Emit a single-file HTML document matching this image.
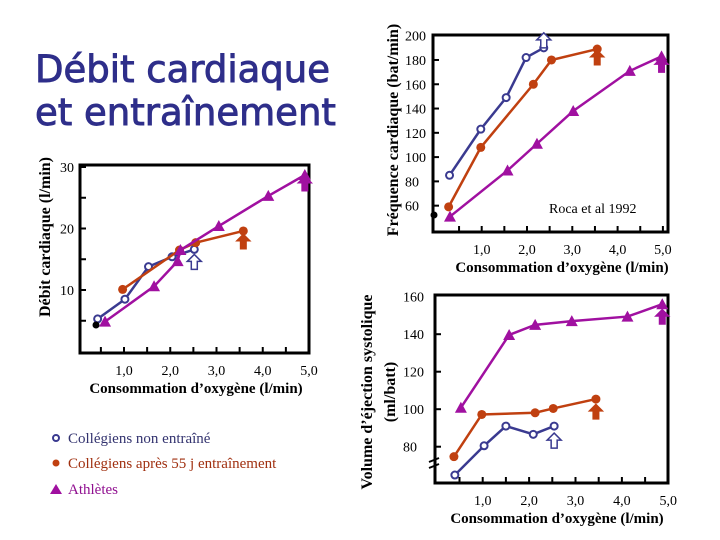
<!DOCTYPE html>
<html><head><meta charset="utf-8">
<style>
html,body{margin:0;padding:0;background:#fff;}
#wrap{position:relative;width:720px;height:540px;overflow:hidden;background:#fff;}
svg text{font-family:"Liberation Serif",serif;}
</style></head>
<body>
<div id="wrap">
<svg id="svg" width="720" height="540" viewBox="0 0 720 540">
<text x="35" y="82" style="font-family:'DejaVu Sans',sans-serif" font-size="37" fill="#2e2e8a" stroke="#2e2e8a" stroke-width="0.9">Débit cardiaque</text>
<text x="35" y="125" style="font-family:'DejaVu Sans',sans-serif" font-size="37" fill="#2e2e8a" stroke="#2e2e8a" stroke-width="0.9">et entraînement</text>
<text transform="translate(50,237) rotate(-90)" text-anchor="middle" font-size="16" font-weight="bold">Débit cardiaque (l/min)</text>
<text transform="translate(398,130) rotate(-90)" text-anchor="middle" font-size="16" font-weight="bold">Fréquence cardiaque (bat/min)</text>
<text transform="translate(372,392) rotate(-90)" text-anchor="middle" font-size="16" font-weight="bold">Volume d’éjection systolique</text>
<text transform="translate(395,392) rotate(-90)" text-anchor="middle" font-size="16" font-weight="bold">(ml/batt)</text>
<text x="549" y="213" font-size="14">Roca et al 1992</text>
<g>
<circle cx="56" cy="438" r="3" fill="none" stroke="#3a3a90" stroke-width="2"/>
<text x="68" y="443" font-size="15" fill="#33336f">Collégiens non entraîné</text>
<circle cx="56" cy="463" r="3.5" fill="#c04010"/>
<text x="68" y="468" font-size="15" fill="#a03010">Collégiens après 55 j entraînement</text>
<polygon points="50,494 56,484 62,494" fill="#a010a0"/>
<text x="68" y="494" font-size="15" fill="#901090">Athlètes</text>
</g>
</svg>
</div>
<script>
// Left chart: cardiac output
const leftBlueX=[0.43,1.02,1.53,2.04,2.52];
const leftBlueY=[5.3,8.5,13.8,15.4,16.6];
const leftOrangeX=[0.97,2.2,2.55,3.58];
const leftOrangeY=[10.1,16.5,17.7,19.6];
const leftPurpleX=[0.59,1.65,2.16,2.22,3.05,4.12,4.91];
const leftPurpleY=[4.85,10.6,14.7,16.5,20.4,25.3,28.7];
const leftYTicks=[10,20,30];
// Top right: heart rate
const hrBlueX=[0.29,0.98,1.54,1.98,2.37];
const hrBlueY=[85,123,149,182,190];
const hrOrangeX=[0.27,0.98,2.14,2.54,3.55];
const hrOrangeY=[59,108,160,180,189];
const hrPurpleX=[0.3,1.57,2.22,3.02,4.27,4.97];
const hrPurpleY=[51,89,111,138,171,183];
const hrYTicks=[60,80,100,120,140,160,180,200];
// Bottom right: stroke volume
const svBlueX=[0.40,1.03,1.50,2.09,2.54];
const svBlueY=[64.9,80.5,91,86.6,91];
const svOrangeX=[0.38,0.98,2.13,2.52,3.44];
const svOrangeY=[74.7,97.2,98.1,100.4,105.4];
const svPurpleX=[0.53,1.57,2.13,2.92,4.12,4.87];
const svPurpleY=[100.8,139.6,145,147,149.4,156];
const svYTicks=[80,100,120,140,160];
const xTickLabels=["1,0","2,0","3,0","4,0","5,0"];
const xTickVals=[1,2,3,4,5];

const NS="http://www.w3.org/2000/svg";
const svg=document.getElementById('svg');
const C={blue:"#3a3a90",orange:"#c04010",purple:"#a010a0"};
function mk(tag,attrs,parent){const e=document.createElementNS(NS,tag);for(const k in attrs)e.setAttribute(k,attrs[k]);(parent||svg).appendChild(e);return e;}

function panel(cfg){
  const g=mk('g',{});
  
  
  const sx=v=>cfg.x0+v*cfg.kx;
  const sy=v=>cfg.y0-(v-cfg.vmin)*cfg.ky;
  const fr=mk('rect',{x:cfg.L,y:cfg.T,width:cfg.R-cfg.L,height:cfg.B-cfg.T,fill:'none',stroke:'#000','stroke-width':3},g);
  
  
  for(let v=0.5;v<=5.01;v+=0.5){
    const t=mk('line',{x1:sx(v),x2:sx(v),y1:cfg.B,y2:cfg.B-6,stroke:'#000','stroke-width':2},g);
    
    
  }
  xTickVals.forEach((v,i)=>{
    const t=mk('text',{x:sx(v),y:cfg.B+22,'text-anchor':'middle','font-size':14},g);
    t.textContent=xTickLabels[i];
    
    
  });
  const xt=mk('text',{x:cfg.xtX,y:cfg.B+40,'text-anchor':'middle','font-size':15,'font-weight':'bold'},g);
  xt.textContent="Consommation d’oxygène (l/min)";
  
  
  cfg.yTicks.forEach(v=>{
    const t=mk('text',{x:cfg.L+cfg.labDx,y:sy(v)+5,'text-anchor':cfg.labAnchor,'font-size':14},g);
    t.textContent=v;
    
    
  });
  cfg.minorTicks.forEach(v=>{
    const t=mk('line',{x1:cfg.L,x2:cfg.L+6,y1:sy(v),y2:sy(v),stroke:'#000','stroke-width':2},g);
    
    
  });
  cfg.series.forEach(s=>{
    const pts=s.x.map((v,i)=>sx(v)+','+sy(s.y[i])).join(' ');
    const pl=mk('polyline',{points:pts,fill:'none',stroke:C[s.c],'stroke-width':2.5},g);
    
    
    s.x.forEach((v,i)=>{
      const px=sx(v),py=sy(s.y[i]);let m;
      if(s.c==='blue')m=mk('circle',{cx:px,cy:py,r:3.5,fill:'#fff',stroke:C.blue,'stroke-width':2},g);
      else if(s.c==='orange')m=mk('circle',{cx:px,cy:py,r:4.5,fill:C.orange},g);
      else m=mk('polygon',{points:`${px-6},${py+5} ${px},${py-6} ${px+6},${py+5}`,fill:C.purple},g);
      
      
    });
    const lx=sx(s.x[s.x.length-1]),ly=sy(s.y[s.y.length-1])+s.ad;
    const hollow=s.c==='blue';
    const a=mk('polygon',{points:`${lx},${ly-7} ${lx+7},${ly} ${lx+3},${ly} ${lx+3},${ly+8} ${lx-3},${ly+8} ${lx-3},${ly} ${lx-7},${ly}`,
      fill:hollow?'#fff':C[s.c],stroke:C[s.c],'stroke-width':hollow?1.5:1},g);
    
    
  });
  if(cfg.dot){
    const d=mk('circle',{cx:cfg.dot[0],cy:cfg.dot[1],r:3.5,fill:'#000'},g);
    
    
  }
}

panel({name:'left-panel-cardiac-output',L:80,R:309,T:165,B:353,x0:77.75,kx:46.25,y0:351.5,vmin:0,ky:6.15,
  yTicks:leftYTicks,minorTicks:[5,10,15,20,25,30],labDx:-6,labAnchor:'end',xtX:196,dot:[96,325],
  series:[{n:'left-untrained',c:'blue',x:leftBlueX,y:leftBlueY,ad:12},
          {n:'left-trained',c:'orange',x:leftOrangeX,y:leftOrangeY,ad:10},
          {n:'left-athletes',c:'purple',x:leftPurpleX,y:leftPurpleY,ad:8}]});
panel({name:'top-right-panel-heart-rate',L:433,R:668,T:35,B:232,x0:436.4,kx:45.3,y0:35.7,vmin:200,ky:1.214,
  yTicks:hrYTicks,minorTicks:[60,80,100,120,140,160,180],labDx:-28,labAnchor:'start',xtX:562,dot:[434,215],
  series:[{n:'hr-untrained',c:'blue',x:hrBlueX,y:hrBlueY,ad:-8},
          {n:'hr-trained',c:'orange',x:hrOrangeX,y:hrOrangeY,ad:8},
          {n:'hr-athletes',c:'purple',x:hrPurpleX,y:hrPurpleY,ad:8}]});
panel({name:'bottom-right-panel-stroke-volume',L:435,R:668,T:295,B:483,x0:436.3,kx:46.4,y0:296.7,vmin:160,ky:1.875,
  yTicks:svYTicks,minorTicks:[80,100,120,140],labDx:-32,labAnchor:'start',xtX:557,dot:null,
  series:[{n:'sv-untrained',c:'blue',x:svBlueX,y:svBlueY,ad:14},
          {n:'sv-trained',c:'orange',x:svOrangeX,y:svOrangeY,ad:12},
          {n:'sv-athletes',c:'purple',x:svPurpleX,y:svPurpleY,ad:12}]});
const br=mk('path',{d:'M429,462 l10,-4 M429,468 l10,-4',stroke:'#000','stroke-width':2,fill:'none'});


</script>
</body></html>
